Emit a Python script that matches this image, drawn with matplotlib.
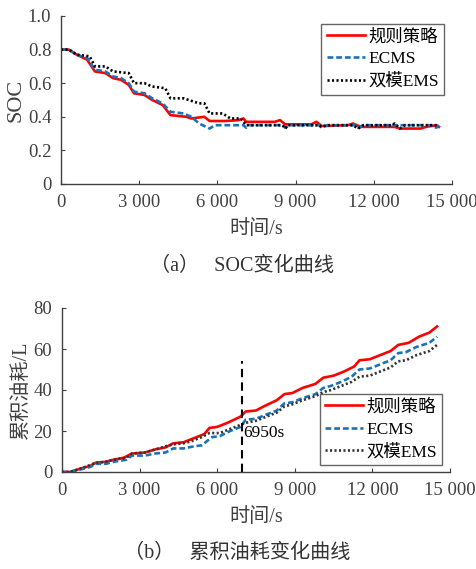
import matplotlib
matplotlib.use("Agg")
import numpy as np
from matplotlib import pyplot as plt
from matplotlib.ticker import FuncFormatter

plt.rcParams['font.family'] = ['Liberation Serif', 'Noto Sans CJK SC']
plt.rcParams['axes.unicode_minus'] = False

GRAY = '#404040'
RED = '#ff0000'
BLUE = '#1a72bb'
BLACK = '#000000'

labels = ['规则策略', 'ECMS', '双模EMS']

# SOC curves (time s, SOC)
soc_rule_t = [0, 300, 600, 1000, 1300, 1700, 2000, 2300, 2600, 2800, 3200,
              3500, 3900, 4200, 4800, 5000, 5500, 5700, 6300, 6800, 7000,
              7100, 8200, 8400, 8600, 9600, 9800, 10000, 11000, 11200, 11500,
              12800, 13000, 13800, 14000, 14400, 14500]
soc_rule_v = [0.80, 0.80, 0.77, 0.74, 0.67, 0.66, 0.63, 0.62, 0.59, 0.54, 0.53,
              0.50, 0.47, 0.41, 0.40, 0.39, 0.40, 0.375, 0.375, 0.38, 0.39,
              0.37, 0.37, 0.38, 0.355, 0.355, 0.37, 0.345, 0.35, 0.36, 0.34,
              0.34, 0.33, 0.33, 0.34, 0.35, 0.34]

soc_ecms_t = [0, 300, 600, 1000, 1300, 1700, 2000, 2300, 2600, 2800, 3200,
              3500, 3900, 4200, 4700, 5000, 5300, 5700, 5900, 7000, 7100,
              7200, 8500, 8600, 8800, 9900, 10000, 10200, 11300, 11400, 11600,
              14200, 14400, 14500]
soc_ecms_v = [0.80, 0.80, 0.77, 0.75, 0.68, 0.67, 0.64, 0.63, 0.60, 0.55, 0.54,
              0.51, 0.48, 0.43, 0.42, 0.40, 0.36, 0.33, 0.35, 0.35, 0.335,
              0.35, 0.35, 0.335, 0.35, 0.35, 0.335, 0.35, 0.35, 0.335, 0.35,
              0.35, 0.335, 0.35]

soc_dual_t = [0, 300, 600, 1100, 1300, 1700, 2000, 2600, 2800, 3200, 3500,
              4000, 4200, 4700, 5300, 5500, 5700, 6200, 6500, 6900, 7100,
              8500, 8600, 8700, 9900, 10000, 10200, 11200, 11400, 11600,
              12700, 12800, 13000, 13200, 14500]
soc_dual_v = [0.80, 0.80, 0.77, 0.76, 0.70, 0.70, 0.67, 0.66, 0.60, 0.60, 0.58,
              0.57, 0.51, 0.51, 0.48, 0.48, 0.42, 0.42, 0.39, 0.39, 0.35,
              0.35, 0.33, 0.35, 0.35, 0.34, 0.35, 0.35, 0.33, 0.35,
              0.35, 0.36, 0.33, 0.35, 0.35]

# cumulative fuel curves (time s, litres)
fuel_rule_t = [0, 300, 800, 1100, 1300, 1700, 2000, 2400, 2700, 3200, 3600,
               4000, 4300, 4700, 5000, 5500, 5700, 6000, 6400, 6900, 7100,
               7500, 7800, 8300, 8600, 8900, 9300, 9800, 10100, 10500, 10900,
               11300, 11500, 11900, 12300, 12700, 13000, 13400, 13800, 14200,
               14500]
fuel_rule_v = [0, 0, 2, 3, 4.5, 5, 6, 7, 9, 9.5, 11, 12, 14, 14.5, 16, 18.5,
               21.5, 22, 24, 27, 29.5, 30, 32, 35, 38, 38.5, 41, 43, 46, 47, 49,
               51.5, 54.5, 55, 57, 59, 62, 63, 66, 68, 71]

fuel_ecms_t = [0, 300, 800, 1100, 1300, 1700, 2000, 2500, 2700, 3200, 3600,
               4000, 4300, 4700, 5100, 5400, 5800, 6100, 6500, 6900, 7100,
               7500, 7900, 8300, 8600, 8900, 9300, 9800, 10100, 10400, 10800,
               11200, 11500, 11900, 12300, 12700, 13000, 13300, 13700, 14200,
               14500]
fuel_ecms_v = [0, 0, 1.5, 2.5, 4, 4, 5, 6, 8, 8, 9, 9.5, 11.5, 11.5, 12.5, 13,
               17, 17.5, 20, 22, 25.5, 26, 28, 30, 33.5, 34, 36, 38, 41, 42, 44,
               46.5, 50, 50.5, 52.5, 54.5, 58, 58.5, 61, 63, 66]

fuel_dual_t = [0, 300, 800, 1300, 1700, 2000, 2500, 2700, 3200, 3600, 4000,
               4300, 4700, 5000, 5400, 5700, 6100, 6500, 6900, 7100, 7500,
               7900, 8300, 8600, 8900, 9300, 9800, 10100, 10400, 10800, 11200,
               11500, 11900, 12300, 12700, 13000, 13300, 13700, 14200, 14500]
fuel_dual_v = [0, 0, 2, 4.5, 5, 6, 7, 9, 9.5, 11, 12.5, 13.5, 14, 15, 17, 19,
               19, 21, 23, 24, 25, 27, 29, 32, 33, 35, 37, 39, 40, 42, 44, 46.5,
               47, 49, 51, 54, 54.5, 57, 59, 62]

switch_t = 6950
switch_top = 54


def thousands(x, pos):
    return f"{int(x):,}".replace(",", " ")


def style_axes(ax, xlabel_pad):
    for side in ('top', 'right'):
        ax.spines[side].set_visible(False)
    for side in ('left', 'bottom'):
        ax.spines[side].set_color(GRAY)
        ax.spines[side].set_linewidth(1.0)
    ax.tick_params(direction='in', length=3, color=GRAY, labelcolor=GRAY,
                   labelsize=13.5, pad=7)
    ax.set_xlim(0, 15000)
    ax.set_xticks([0, 3000, 6000, 9000, 12000, 15000])
    ax.xaxis.set_major_formatter(FuncFormatter(thousands))
    ax.set_xlabel('时间/s', fontsize=14.5, color=GRAY, labelpad=xlabel_pad)


def draw_curves(ax, series, dual_color):
    styles = [dict(color=RED, ls='-', lw=1.9),
              dict(color=BLUE, ls=(0, (2.2, 1.1)), lw=1.9),
              dict(color=dual_color, ls=(0, (0.8, 0.9)), lw=1.9)]
    for (t, v), lab, st in zip(series, labels, styles):
        ax.plot(t, v, label=lab, **st)


def add_legend(ax, **kw):
    leg = ax.legend(fontsize=12.5, frameon=True, fancybox=False,
                    edgecolor=GRAY, handlelength=2.2, handletextpad=0.2,
                    borderpad=0.3, labelspacing=0.35, borderaxespad=0, **kw)
    leg.get_frame().set_linewidth(1.0)
    return leg


fig = plt.figure(figsize=(4.77, 5.69), dpi=100)
W, H = 477, 569
ax1 = fig.add_axes([61 / W, 1 - 184 / H, 391 / W, 168 / H])
ax2 = fig.add_axes([62 / W, 1 - 472 / H, 388 / W, 164 / H])

# SOC panel
draw_curves(ax1, [(soc_rule_t, soc_rule_v), (soc_ecms_t, soc_ecms_v),
                  (soc_dual_t, soc_dual_v)], BLACK)
style_axes(ax1, 7)
ax1.set_ylim(0, 1.0)
ax1.set_yticks([0, 0.2, 0.4, 0.6, 0.8, 1.0])
ax1.yaxis.set_major_formatter(
    FuncFormatter(lambda y, p: '0' if y == 0 else f"{y:.1f}"))
ax1.set_ylabel('SOC', fontsize=16, color=GRAY, labelpad=2)
add_legend(ax1, loc='upper right', bbox_to_anchor=(0.98, 0.955))

# cumulative fuel panel
draw_curves(ax2, [(fuel_rule_t, fuel_rule_v), (fuel_ecms_t, fuel_ecms_v),
                  (fuel_dual_t, fuel_dual_v)], '#333333')
style_axes(ax2, 7)
ax2.set_ylim(0, 80)
ax2.set_yticks([0, 20, 40, 60, 80])
ax2.set_ylabel('累积油耗/L', fontsize=14.5, color=GRAY, labelpad=2)
ax2.plot([switch_t, switch_t], [0, switch_top], color=BLACK,
         ls=(0, (4, 2.5)), lw=1.5)
ax2.text(switch_t + 60, 19, f'{switch_t}s', fontsize=12.5, color=BLACK,
         va='center', ha='left')
add_legend(ax2, loc='lower right', bbox_to_anchor=(0.98, 0.04))

fig.text(242 / W, 1 - 266 / H, '（a）   SOC变化曲线', ha='center', va='center',
         fontsize=14.5, color='#333333')
fig.text(237 / W, 1 - 553 / H, '（b）   累积油耗变化曲线', ha='center',
         va='center', fontsize=14.5, color='#333333')

fig.savefig('out.png', dpi=100)
